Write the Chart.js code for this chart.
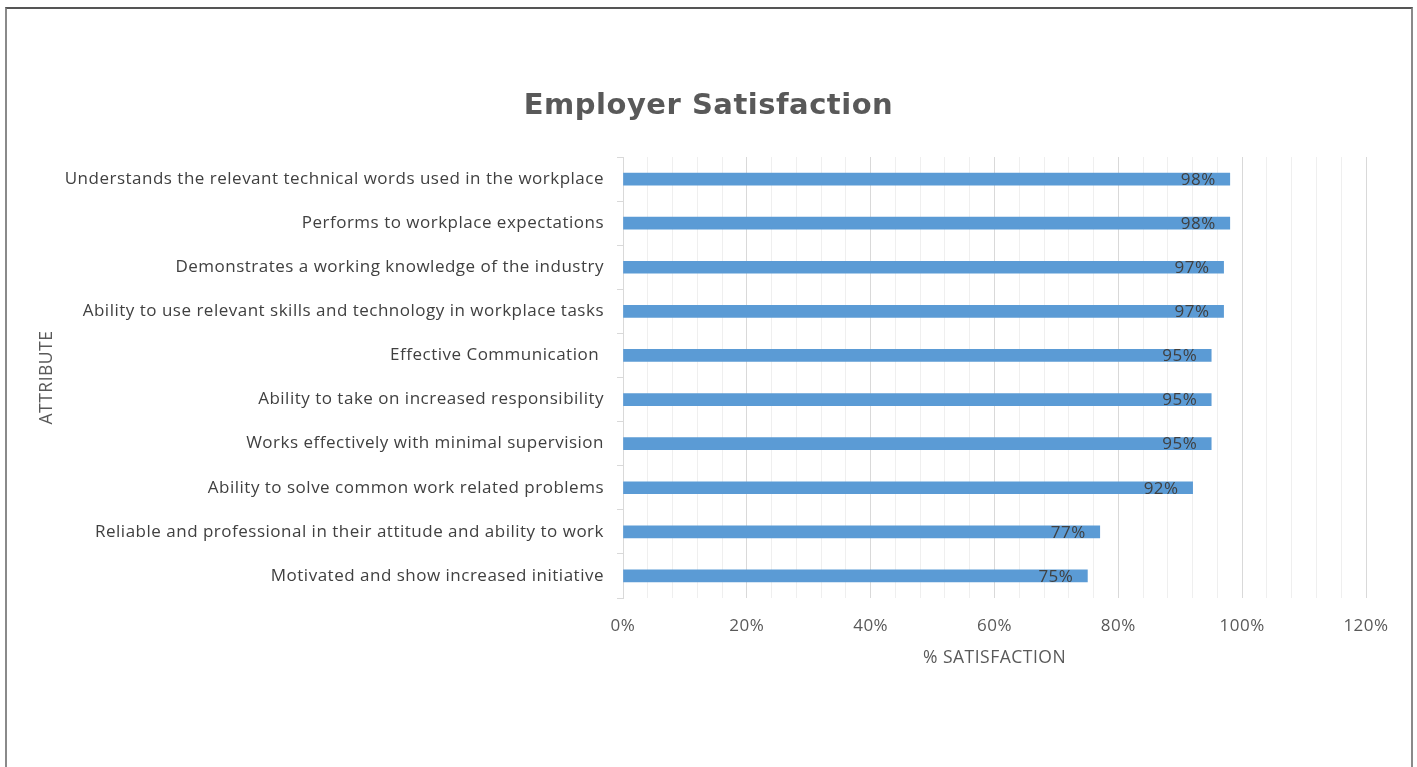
<!DOCTYPE html>
<html>
<head>
<meta charset="utf-8">
<title>Employer Satisfaction</title>
<script src="https://cdn.jsdelivr.net/npm/chart.js@4.4.1/dist/chart.umd.min.js"></script>
<style>
  body { margin: 0; background: #ffffff; }
  #wrap { position: relative; width: 1417px; height: 767px; }
  #frame {
    position: absolute; left: 5px; top: 7px; width: 1404px; height: 770px;
    border-left: 2px solid #8a8a8a; border-right: 2px solid #8a8a8a; border-top: 2px solid #555555;
    pointer-events: none;
  }
</style>
</head>
<body>
<div id="wrap">
  <canvas id="chart"></canvas>
  <div id="frame"></div>
</div>
<script>
"use strict"

//Chart data
const chartTitle = "Employer Satisfaction";
const attributes = [
  "Understands the relevant technical words used in the workplace",
  "Performs to workplace expectations",
  "Demonstrates a working knowledge of the industry",
  "Ability to use relevant skills and technology in workplace tasks",
  "Effective Communication ",
  "Ability to take on increased responsibility",
  "Works effectively with minimal supervision",
  "Ability to solve common work related problems",
  "Reliable and professional in their attitude and ability to work",
  "Motivated and show increased initiative"
];
const satisfaction = [98, 98, 97, 97, 95, 95, 95, 92, 77, 75];
const axisMax = 120;
const majorStep = 20;
const minorStep = 4;

Chart.defaults.font.family = "'Open Sans', sans-serif";
Chart.defaults.color = "#595959";

//Excel-like looser text spacing
function spaceText(chart) {
  chart.ctx.letterSpacing = "0.5px";
}

//Plugin for the letter spacing, the centred title and the bar values
const excelLook = {
  id: "excelLook",
  beforeInit: spaceText,
  beforeUpdate: spaceText,
  beforeDraw: spaceText,
  afterDatasetsDraw(chart) {
    const ctx = chart.ctx;
    const meta = chart.getDatasetMeta(0);
    ctx.save();
    ctx.font = "17px 'Open Sans', sans-serif";
    ctx.fillStyle = "#404040";
    ctx.textAlign = "right";
    ctx.textBaseline = "middle";
    for (let i = 0; i < meta.data.length; i++) {
      const bar = meta.data[i];
      ctx.fillText(satisfaction[i] + "%", bar.x - 14, bar.y + 1);
    }
    ctx.restore();
  },
  afterDraw(chart) {
    const ctx = chart.ctx;
    ctx.save();
    ctx.font = "bold 29px 'DejaVu Sans', sans-serif";
    ctx.fillStyle = "#595959";
    ctx.textAlign = "center";
    ctx.textBaseline = "middle";
    ctx.fillText(chartTitle, chart.width / 2, 106);
    ctx.restore();
  }
};

const data = {
  labels: attributes,
  datasets: [
    {
      label: "% Satisfaction",
      data: satisfaction,
      backgroundColor: "#5b9bd5",
      borderWidth: 0,
      barThickness: 12
    }
  ]
};

const config = {
  type: "bar",
  data: data,
  plugins: [excelLook],
  options: {
    indexAxis: "y",
    responsive: true,
    maintainAspectRatio: false,
    animation: false,
    layout: { padding: { left: 0, right: 51, top: 157, bottom: 98.5 } },
    plugins: {
      legend: { display: false },
      tooltip: { enabled: false },
      title: { display: false }
    },
    scales: {
      x: {
        min: 0,
        max: axisMax,
        border: { display: false },
        grid: {
          drawTicks: false,
          color: (c) => (c.tick && c.tick.value % majorStep === 0) ? "#d9d9d9" : "#efefef"
        },
        ticks: {
          stepSize: minorStep,
          autoSkip: false,
          maxRotation: 0,
          padding: 18,
          font: { size: 17 },
          color: "#595959",
          callback: (v) => v % majorStep === 0 ? v + "%" : ""
        },
        title: {
          display: true,
          text: "% SATISFACTION",
          color: "#595959",
          font: { size: 17.5, lineHeight: 1.2 },
          padding: { top: 4, bottom: 0 }
        },
        afterFit: (scale) => { scale.height = 70.5; }
      },
      y: {
        border: { display: true, color: "#d9d9d9" },
        grid: {
          offset: true,
          drawOnChartArea: false,
          drawTicks: true,
          tickLength: 6,
          tickColor: "#d9d9d9"
        },
        ticks: {
          padding: 13,
          autoSkip: false,
          font: { size: 17 },
          color: "#404040"
        },
        title: {
          display: true,
          text: "ATTRIBUTE",
          color: "#595959",
          font: { size: 17.5, lineHeight: 1.2 },
          padding: { top: 37, bottom: 0 }
        },
        afterFit: (scale) => { scale.width = 623; }
      }
    }
  }
};

const chartCanvas = document.getElementById("chart");
const myChart = new Chart(chartCanvas, config);
</script>
</body>
</html>
